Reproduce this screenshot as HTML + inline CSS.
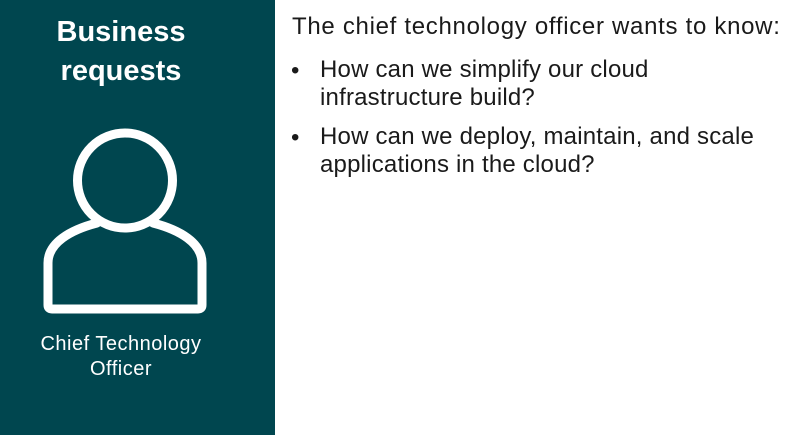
<!DOCTYPE html>
<html><head><style>
html,body{margin:0;padding:0;background:#fff;width:797px;height:435px;overflow:hidden;font-family:"Liberation Sans",sans-serif;}
.panel{position:absolute;left:0;top:0;width:275px;height:435px;background:#00464f;}
.t{position:absolute;color:#fff;text-align:center;}
.r{position:absolute;color:#1a1a1a;font-size:24px;white-space:nowrap;letter-spacing:0.2px;}
</style></head><body>
<div class="panel"></div>
<div class="t" style="left:0;width:242px;top:13px;font-size:29px;font-weight:bold;line-height:39px;">Business<br>requests</div>
<svg style="position:absolute;left:0;top:0" width="275" height="435">
<circle cx="125" cy="180.5" r="47.5" fill="none" stroke="#fff" stroke-width="9"/>
<path d="M97 223 C70 230 48 243 48 263 L48 305 Q48 309 52 309 L198 309 Q202 309 202 305 L202 263 C202 243 180 230 153 223" fill="none" stroke="#fff" stroke-width="9" stroke-linejoin="round" stroke-linecap="round"/>
</svg>
<div class="t" style="left:0;width:242px;top:332px;font-size:20px;line-height:25px;letter-spacing:0.5px;">Chief Technology<br>Officer</div>
<div class="r" style="left:292px;top:13px;letter-spacing:0.7px;">The chief technology officer wants to know:</div>
<div class="r" style="left:291px;top:57px;">•</div>
<div class="r" style="left:320px;top:56px;line-height:28px;">How can we simplify our cloud<br>infrastructure build?</div>
<div class="r" style="left:291px;top:124px;">•</div>
<div class="r" style="left:320px;top:123px;line-height:28px;">How can we deploy, maintain, and scale<br>applications in the cloud?</div>
</body></html>
